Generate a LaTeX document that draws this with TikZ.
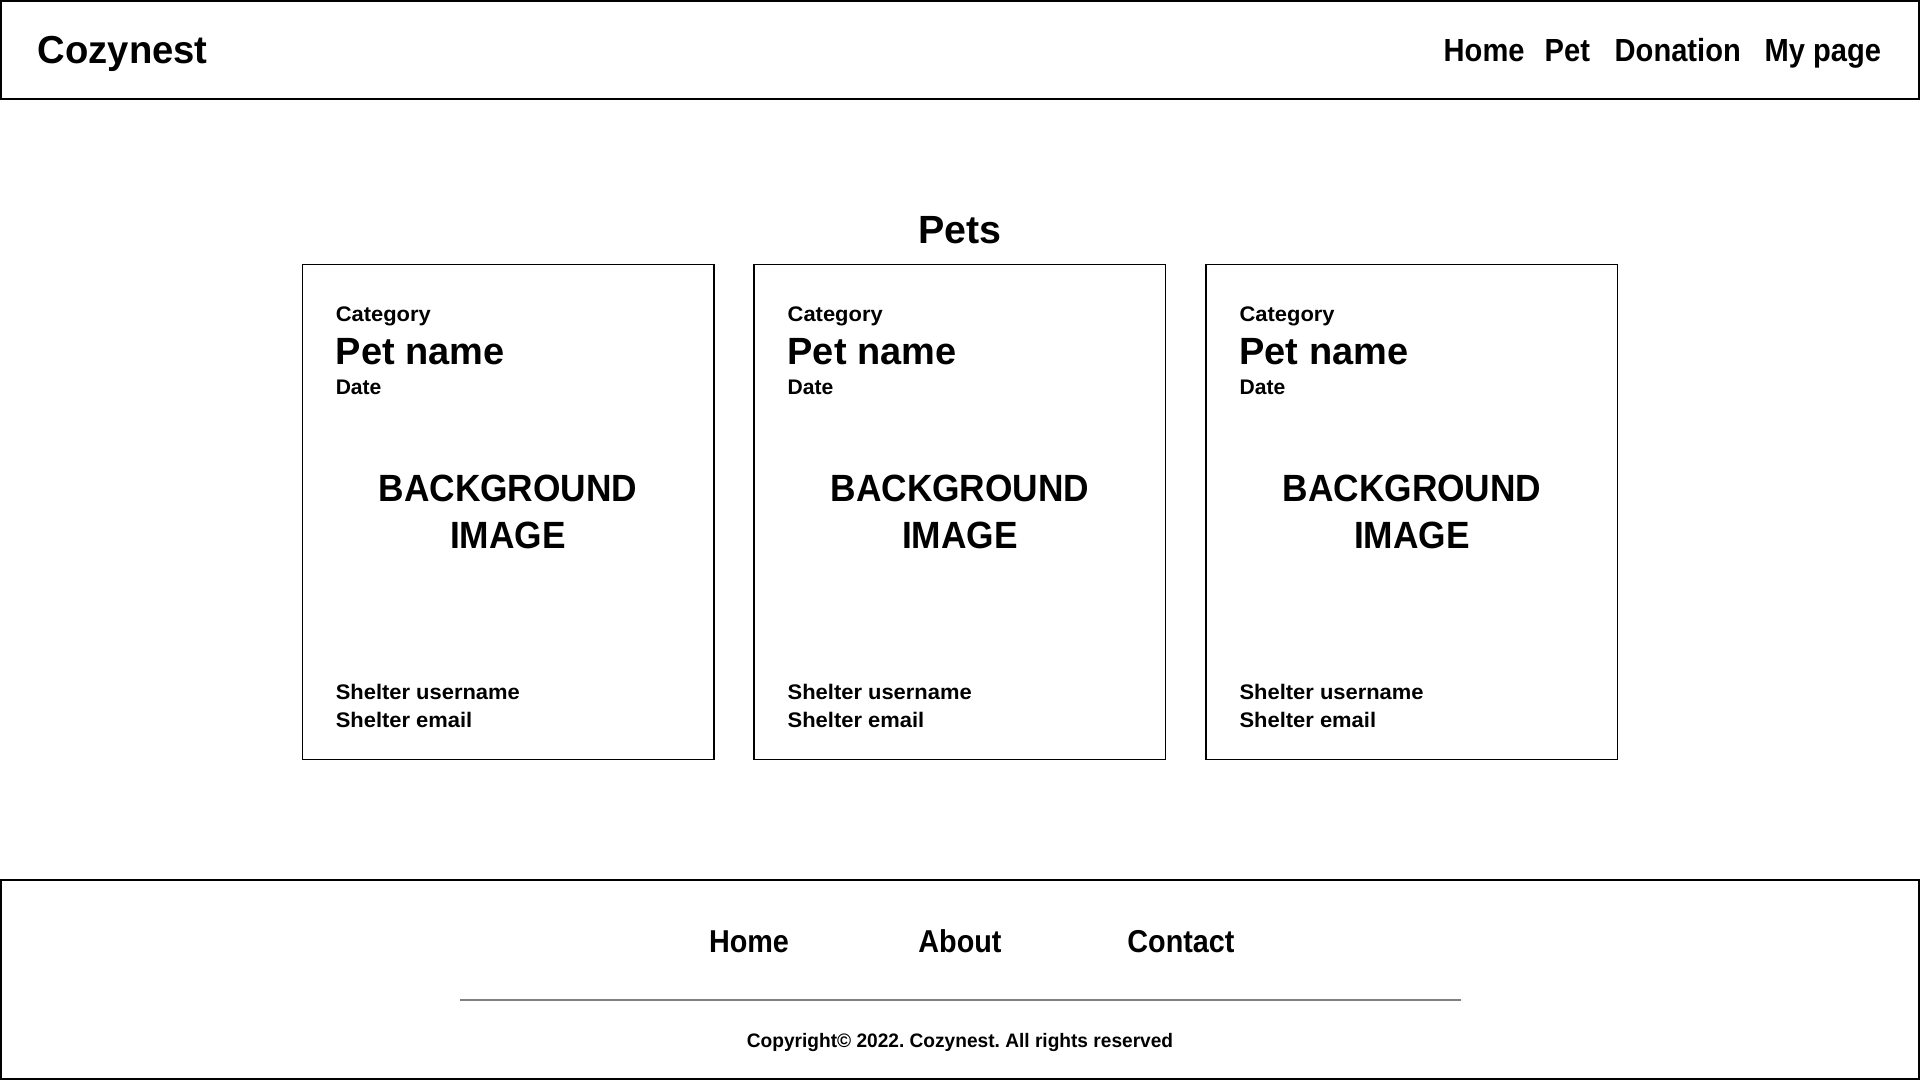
\documentclass[tikz,border=0pt]{standalone}
\usepackage{fontspec}
\setmainfont{Liberation Sans}
\usepackage{tikz}
\usepackage{xcolor}
\definecolor{rulegray}{HTML}{808080}
\newcommand{\fsz}[2][1]{\bfseries\fontsize{#2}{#1}\selectfont}
\frenchspacing

\begin{document}
\begin{tikzpicture}[line width=0.43pt,
  lbl/.style={inner sep=0pt,anchor=base west},
  mid/.style={inner sep=0pt,anchor=base},
  navlink/.style={lbl,xscale=0.91,font=\fsz{9.1}},
  small/.style={lbl,xscale=1.04,font=\fsz{6}},
  footlink/.style={mid,xscale=0.91,font=\fsz{9}},
  bgtext/.style={inner sep=0pt,align=center,xscale=0.93,font=\fsz[13.46]{10.8}}]
\useasboundingbox (0,0) rectangle (19.2,10.8);
% header and footer bars
\draw (0.01,9.81) rectangle (19.19,10.79);
\draw (0.01,0.01) rectangle (19.19,2.0);
\node[lbl,xscale=0.98,font=\fsz{11.1}] (brand) at (0.37,10.16) {Cozynest};
\node[navlink] (navhome) at (14.43,10.18) {Home};
\node[navlink] (navpet) at (15.44,10.18) {Pet};
\node[navlink] (navdon) at (16.14,10.18) {Donation};
\node[navlink] (navmy) at (17.64,10.18) {My page};
\node[mid,font=\fsz{11.2}] (title) at (9.6,8.36) {Pets};
% card 1
\draw (3.023,3.207) rectangle (7.138,8.157);
\node[small] (cat1) at (3.35,7.583) {Category};
\node[lbl,font=\fsz{10.8}] (pname1) at (3.35,7.15) {Pet name};
\node[lbl,font=\fsz{6}] (date1) at (3.35,6.85) {Date};
\node[bgtext] (bg1) at (5.08,5.683) {BACKGROUND\\IMAGE};
\node[small] (user1) at (3.35,3.80) {Shelter username};
\node[small] (mail1) at (3.35,3.525) {Shelter email};
% card 2
\draw (7.542,3.207) rectangle (11.657,8.157);
\node[small] (cat2) at (7.869,7.583) {Category};
\node[lbl,font=\fsz{10.8}] (pname2) at (7.869,7.15) {Pet name};
\node[lbl,font=\fsz{6}] (date2) at (7.869,6.85) {Date};
\node[bgtext] (bg2) at (9.6,5.683) {BACKGROUND\\IMAGE};
\node[small] (user2) at (7.869,3.80) {Shelter username};
\node[small] (mail2) at (7.869,3.525) {Shelter email};
% card 3
\draw (12.061,3.207) rectangle (16.176,8.157);
\node[small] (cat3) at (12.388,7.583) {Category};
\node[lbl,font=\fsz{10.8}] (pname3) at (12.388,7.15) {Pet name};
\node[lbl,font=\fsz{6}] (date3) at (12.388,6.85) {Date};
\node[bgtext] (bg3) at (14.12,5.683) {BACKGROUND\\IMAGE};
\node[small] (user3) at (12.388,3.80) {Shelter username};
\node[small] (mail3) at (12.388,3.525) {Shelter email};
% footer
\node[footlink] (fthome) at (7.49,1.27) {Home};
\node[footlink] (ftabout) at (9.6,1.27) {About};
\node[footlink] (ftcontact) at (11.81,1.27) {Contact};
\draw[color=rulegray,line width=0.57pt] (4.6,0.8) -- (14.61,0.8);
\node[mid,xscale=0.98,font=\fsz{5.55}] (copy) at (9.6,0.325) {Copyright© 2022. Cozynest. All rights reserved};
\end{tikzpicture}
\end{document}
